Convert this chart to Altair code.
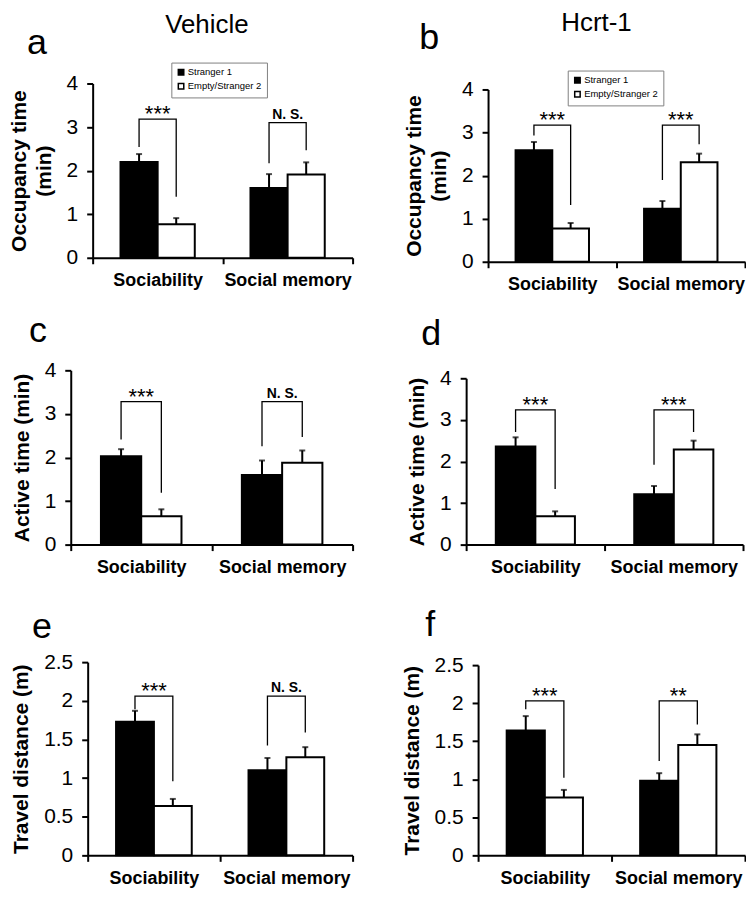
import altair as alt
import pandas as pd

FONT = "Liberation Sans"

categories = ["Sociability", "Social memory"]
series = ["Stranger 1", "Empty/Stranger 2"]

# bar order: Sociability-Stranger 1, Sociability-Empty/Stranger 2,
#            Social memory-Stranger 1, Social memory-Stranger 2
means_a = [2.20, 0.77, 1.60, 1.91]
errs_a = [0.18, 0.14, 0.32, 0.28]
means_b = [2.59, 0.77, 1.23, 2.31]
errs_b = [0.19, 0.13, 0.18, 0.20]
means_c = [2.03, 0.65, 1.60, 1.88]
errs_c = [0.16, 0.16, 0.33, 0.28]
means_d = [2.36, 0.68, 1.21, 2.29]
errs_d = [0.22, 0.12, 0.20, 0.21]
means_e = [1.73, 0.64, 1.10, 1.27]
errs_e = [0.14, 0.09, 0.16, 0.13]
means_f = [1.64, 0.76, 0.98, 1.45]
errs_f = [0.19, 0.10, 0.10, 0.14]

# significance brackets, per category: top, left-leg end, right-leg end
br_top_a = [3.18, 3.10]
br_left_a = [2.54, 2.17]
br_right_a = [1.40, 2.47]
sig_a = ["***", "N. S."]

br_top_b = [3.17, 3.17]
br_left_b = [2.93, 1.90]
br_right_b = [1.32, 2.73]
sig_b = ["***", "***"]

br_top_c = [3.28, 3.28]
br_left_c = [2.41, 2.26]
br_right_c = [1.19, 2.47]
sig_c = ["***", "N. S."]

br_top_d = [3.24, 3.24]
br_left_d = [2.71, 1.92]
br_right_d = [1.34, 2.71]
sig_d = ["***", "***"]

br_top_e = [2.06, 2.06]
br_left_e = [1.89, 1.42]
br_right_e = [0.96, 1.59]
sig_e = ["***", "N. S."]

br_top_f = [2.03, 2.03]
br_left_f = [1.92, 1.24]
br_right_f = [1.02, 1.72]
sig_f = ["***", "**"]

ytitle_occ = ["Occupancy time", "(min)"]
ytitle_act = "Active time (min)"
ytitle_dist = "Travel distance (m)"

yticks_min = [0, 1, 2, 3, 4]
yticks_m = [0, 0.5, 1, 1.5, 2, 2.5]


def make_panel(letter, means, errs, br_top, br_left, br_right, sig,
               ytitle, ydomain, yticks, cell_w, cell_h, xr, yr,
               legend_pos, letter_dx, letter_offset):
    rows = []
    for i, c in enumerate(categories):
        for j, s in enumerate(series):
            k = i * 2 + j
            rows.append({"cat": c, "series": s, "mean": means[k],
                         "upper": round(means[k] + errs[k], 3)})
    bars_df = pd.DataFrame(rows)

    brows = []
    for i, c in enumerate(categories):
        brows += [
            {"bracket": i, "order": 0, "cat": c, "series": series[0], "y": br_left[i]},
            {"bracket": i, "order": 1, "cat": c, "series": series[0], "y": br_top[i]},
            {"bracket": i, "order": 2, "cat": c, "series": series[1], "y": br_top[i]},
            {"bracket": i, "order": 3, "cat": c, "series": series[1], "y": br_right[i]},
        ]
    br_df = pd.DataFrame(brows)
    sig_df = pd.DataFrame({"cat": categories, "y": br_top, "label": sig})

    x_axis = alt.Axis(title=None, tickBand="extent", labelAngle=0, labelFont=FONT,
                      labelFontSize=18, labelFontWeight="bold", labelColor="black",
                      labelPadding=8, tickSize=6, tickWidth=2, tickColor="black",
                      domainColor="black", domainWidth=2, grid=False,
                      offset=-(cell_h - yr[0]))
    x_enc = alt.X("cat:N", sort=categories,
                  scale=alt.Scale(domain=categories, paddingInner=0, paddingOuter=0,
                                  range=xr),
                  axis=x_axis)
    xoff = alt.XOffset("series:N", sort=series,
                       scale=alt.Scale(domain=series, paddingInner=0, paddingOuter=0.75))
    y_axis = alt.Axis(title=ytitle, values=yticks, format="~g", grid=False,
                      labelFont=FONT, labelFontSize=21, labelColor="black",
                      labelPadding=9, tickSize=6, tickWidth=2, tickColor="black",
                      domainColor="black", domainWidth=2, titleFont=FONT,
                      titleFontSize=21, titleFontWeight="bold", titleColor="black",
                      titlePadding=12, titleLineHeight=25, offset=-xr[0])
    yscale = alt.Scale(domain=ydomain, nice=False, zero=True, range=yr)

    if legend_pos is None:
        legend = None
    else:
        legend = alt.Legend(orient="none", legendX=legend_pos[0], legendY=legend_pos[1],
                            title=None, direction="vertical", symbolType="square",
                            symbolSize=30, symbolStrokeColor="black",
                            symbolStrokeWidth=1.5, labelFont=FONT, labelFontSize=9.5,
                            labelColor="black", padding=5, strokeColor="#808080",
                            fillColor="white", rowPadding=2, labelOffset=2)

    bars = alt.Chart(bars_df).mark_bar(stroke="black", strokeWidth=2).encode(
        x=x_enc, xOffset=xoff,
        y=alt.Y("mean:Q", scale=yscale, axis=y_axis),
        fill=alt.Fill("series:N", sort=series,
                      scale=alt.Scale(domain=series, range=["black", "white"]),
                      legend=legend),
    )
    err = alt.Chart(bars_df).mark_rule(color="black", strokeWidth=2).encode(
        x=x_enc, xOffset=xoff,
        y=alt.Y("mean:Q", scale=yscale, axis=y_axis),
        y2="upper:Q",
    )
    cap = alt.Chart(bars_df).mark_tick(color="black", thickness=2, size=6).encode(
        x=x_enc, xOffset=xoff,
        y=alt.Y("upper:Q", scale=yscale, axis=y_axis),
    )
    bracket = alt.Chart(br_df).mark_line(color="black", strokeWidth=1.3).encode(
        x=x_enc, xOffset=xoff,
        y=alt.Y("y:Q", scale=yscale, axis=y_axis),
        detail="bracket:N", order="order:Q",
    )
    stars = alt.Chart(sig_df).transform_filter(alt.datum.label != "N. S.").mark_text(
        font=FONT, fontSize=22, baseline="alphabetic", dy=2, color="black"
    ).encode(x=x_enc, y=alt.Y("y:Q", scale=yscale, axis=y_axis), text="label:N")
    ns = alt.Chart(sig_df).transform_filter(alt.datum.label == "N. S.").mark_text(
        font=FONT, fontSize=14, fontWeight="bold", baseline="alphabetic", dy=-4,
        color="black"
    ).encode(x=x_enc, y=alt.Y("y:Q", scale=yscale, axis=y_axis), text="label:N")

    return alt.layer(bars, err, cap, bracket, stars, ns).properties(
        width=cell_w, height=cell_h,
        title=alt.TitleParams(text=letter, font=FONT, fontSize=36, fontWeight="normal",
                              anchor="start", frame="group", dx=letter_dx,
                              color="black", offset=letter_offset),
    )


W1, W2 = 283, 280
H1, H2, H3 = 183, 188, 194
pa = make_panel("a", means_a, errs_a, br_top_a, br_left_a, br_right_a, sig_a,
                ytitle_occ, [0, 4], yticks_min, W1, H1, [22, 283], [175, 0],
                (101, -21), -44, 0)
pc = make_panel("c", means_c, errs_c, br_top_c, br_left_c, br_right_c, sig_c,
                ytitle_act, [0, 4], yticks_min, W1, H2, [0, 283], [175, 0],
                None, -42, 9)
pe = make_panel("e", means_e, errs_e, br_top_e, br_left_e, br_right_e, sig_e,
                ytitle_dist, [0, 2.5], yticks_m, W1, H3, [17, 283], [194, 0],
                None, -39, 5)
pb = make_panel("b", means_b, errs_b, br_top_b, br_left_b, br_right_b, sig_b,
                ytitle_occ, [0, 4], yticks_min, W2, H1, [22, 280], [179, 6],
                (102, -13), -47, 13)
pd_ = make_panel("d", means_d, errs_d, br_top_d, br_left_d, br_right_d, sig_d,
                 ytitle_act, [0, 4], yticks_min, W2, H2, [0, 278], [175, 8],
                 None, -45, 14)
pf = make_panel("f", means_f, errs_f, br_top_f, br_left_f, br_right_f, sig_f,
                ytitle_dist, [0, 2.5], yticks_m, W2, H3, [12, 280], [194, 3],
                None, -41, 10)

ROW_GAP = 105
col1 = alt.vconcat(pa, pc, pe, spacing=ROW_GAP, bounds="flush",
                   title=alt.TitleParams(text="Vehicle", font=FONT, fontSize=26,
                                         fontWeight="normal", anchor="middle",
                                         dx=26, color="black", offset=-13)
                   ).resolve_scale(fill="independent", xOffset="independent")
col2 = alt.vconcat(pb, pd_, pf, spacing=ROW_GAP, bounds="flush",
                   title=alt.TitleParams(text="Hcrt-1", font=FONT, fontSize=26,
                                         fontWeight="normal", anchor="middle",
                                         dx=23, color="black", offset=-16)
                   ).resolve_scale(fill="independent", xOffset="independent")

chart = alt.hconcat(col1, col2, spacing=47).resolve_scale(
    fill="independent", xOffset="independent"
).properties(
    padding={"left": 0, "top": 0, "right": 0, "bottom": 0}
).configure_view(stroke=None)

chart.save("out.html", embed_options={"renderer": "svg", "actions": False})
